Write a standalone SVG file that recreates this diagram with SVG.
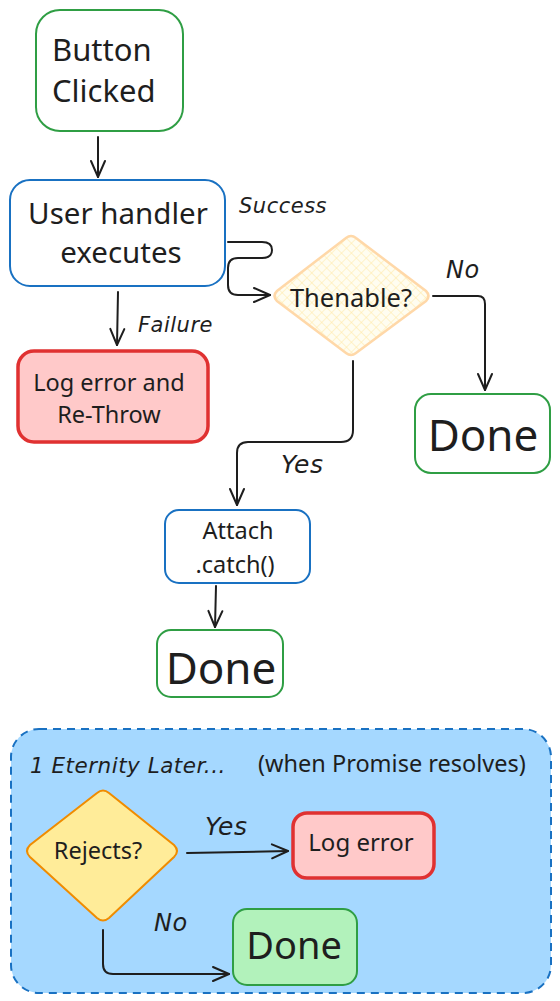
<svg xmlns="http://www.w3.org/2000/svg" width="560" height="1001" viewBox="0 0 560 1001">
<defs>
<style>
.t{font-family:"Noto Sans","Open Sans",sans-serif;fill:#1e1e1e;text-anchor:middle}
.h{font-family:"DejaVu Sans",sans-serif;font-style:oblique;fill:#1e1e1e;letter-spacing:0.5px}
.c{fill:none;stroke:#1e1e1e;stroke-width:2;stroke-linecap:round;stroke-linejoin:round}
.green{fill:#ffffff;stroke:#2f9e44;stroke-width:2}
.blue{fill:#ffffff;stroke:#1971c2;stroke-width:2}
.red{fill:#ffc9c9;stroke:#e03131;stroke-width:3.5}
</style>
<pattern id="hatch" width="7" height="7" patternUnits="userSpaceOnUse" patternTransform="rotate(45)">
<rect width="7" height="7" fill="#fffdf0"/>
<path d="M0,0 L0,7 M0,0 L7,0" stroke="#ffe8a3" stroke-width="1"/>
</pattern>
<marker id="arr" viewBox="0 0 20 20" refX="18" refY="10" markerWidth="20" markerHeight="20" markerUnits="userSpaceOnUse" orient="auto">
<path d="M2,3 L18,10 L2,17" fill="none" stroke="#1e1e1e" stroke-width="2" stroke-linecap="round" stroke-linejoin="round"/>
</marker>
</defs>
<rect width="560" height="1001" fill="#ffffff"/>

<g id="container">
<rect x="11" y="729" width="540" height="264" rx="28" fill="#a5d8ff" stroke="#1971c2" stroke-width="2" stroke-dasharray="8 6"/>
<text x="30" y="773" class="h" font-size="21.5">1 Eternity Later...</text>
<text x="258" y="772" font-family="Noto Sans,sans-serif" font-size="23.5" fill="#1e1e1e">(when Promise resolves)</text>
</g>

<g id="connectors">
<path class="c" d="M98,137 L98,177" marker-end="url(#arr)"/>
<path class="c" d="M228,242 L262,242 Q272,242 272,250 Q272,258 262,258 L238,258 Q228,258 228,268 L228,285 Q228,295 238,295 L270,295" marker-end="url(#arr)"/>
<path class="c" d="M118,292 L117,345" marker-end="url(#arr)"/>
<path class="c" d="M433,296 L478,296 Q485,296 485,304 L485,390" marker-end="url(#arr)"/>
<path class="c" d="M353,361 L353,430 Q353,442 341,442 L248,442 Q237,442 237,453 L237,505" marker-end="url(#arr)"/>
<path class="c" d="M216,586 L215,627" marker-end="url(#arr)"/>
<path class="c" d="M187,853 L288,851" marker-end="url(#arr)" stroke-width="2.5"/>
<path class="c" d="M103,930 L103,964 Q103,974 113,974 L229,974" marker-end="url(#arr)"/>
<text x="239" y="213" class="h" font-size="21">Success</text>
<text x="446" y="278" class="h" font-size="24">No</text>
<text x="138" y="332" class="h" font-size="21">Failure</text>
<text x="281" y="473" class="h" font-size="25">Yes</text>
<text x="205" y="835" class="h" font-size="25">Yes</text>
<text x="154" y="931" class="h" font-size="24">No</text>
</g>

<g id="button-clicked">
<rect x="36" y="10" width="147" height="121" rx="24" class="green"/>
<text x="52" y="61" class="t" font-size="31" style="text-anchor:start">Button</text>
<text x="52" y="102" class="t" font-size="31" style="text-anchor:start">Clicked</text>
</g>

<g id="user-handler">
<rect x="10" y="180" width="215" height="106" rx="20" class="blue"/>
<text x="118" y="224" class="t" font-size="29.5">User handler</text>
<text x="121" y="263" class="t" font-size="29.5">executes</text>
</g>

<g id="thenable">
<path d="M346,238 Q351,234 356,238 L426,291 Q431,296 426,301 L356,353 Q351,357 346,353 L277,301 Q272,296 277,291 Z" fill="url(#hatch)" stroke="#ffd8a8" stroke-width="2.5"/>
<text x="351" y="307" class="t" font-size="25.5">Thenable?</text>
</g>

<g id="log-error-rethrow">
<rect x="18" y="351" width="190" height="91" rx="16" class="red"/>
<text x="109" y="391" class="t" font-size="23.5">Log error and</text>
<text x="109" y="423" class="t" font-size="23.5">Re-Throw</text>
</g>

<g id="done-right">
<rect x="415" y="394" width="135" height="79" rx="16" class="green"/>
<text x="483" y="451" class="t" font-size="44">Done</text>
</g>

<g id="attach-catch">
<rect x="165" y="510" width="145" height="73" rx="14" class="blue"/>
<text x="238" y="539" class="t" font-size="23.5">Attach</text>
<text x="235" y="573" class="t" font-size="23.5">.catch()</text>
</g>

<g id="done-middle">
<rect x="157" y="630" width="126" height="67" rx="14" class="green"/>
<text x="221" y="684" class="t" font-size="44">Done</text>
</g>

<g id="rejects">
<path d="M97,793 Q103,788 109,793 L174,845 Q180,851 174,857 L109,918 Q103,923 97,918 L30,857 Q24,851 30,845 Z" fill="#ffec99" stroke="#f08c00" stroke-width="2"/>
<text x="98" y="859" class="t" font-size="23.5">Rejects?</text>
</g>

<g id="log-error">
<rect x="293" y="813" width="141" height="65" rx="14" class="red"/>
<text x="361" y="851" class="t" font-size="24">Log error</text>
</g>

<g id="done-bottom">
<rect x="233" y="909" width="124" height="76" rx="14" fill="#b2f2bb" stroke="#2f9e44" stroke-width="2"/>
<text x="294" y="959" class="t" font-size="38">Done</text>
</g>
</svg>
